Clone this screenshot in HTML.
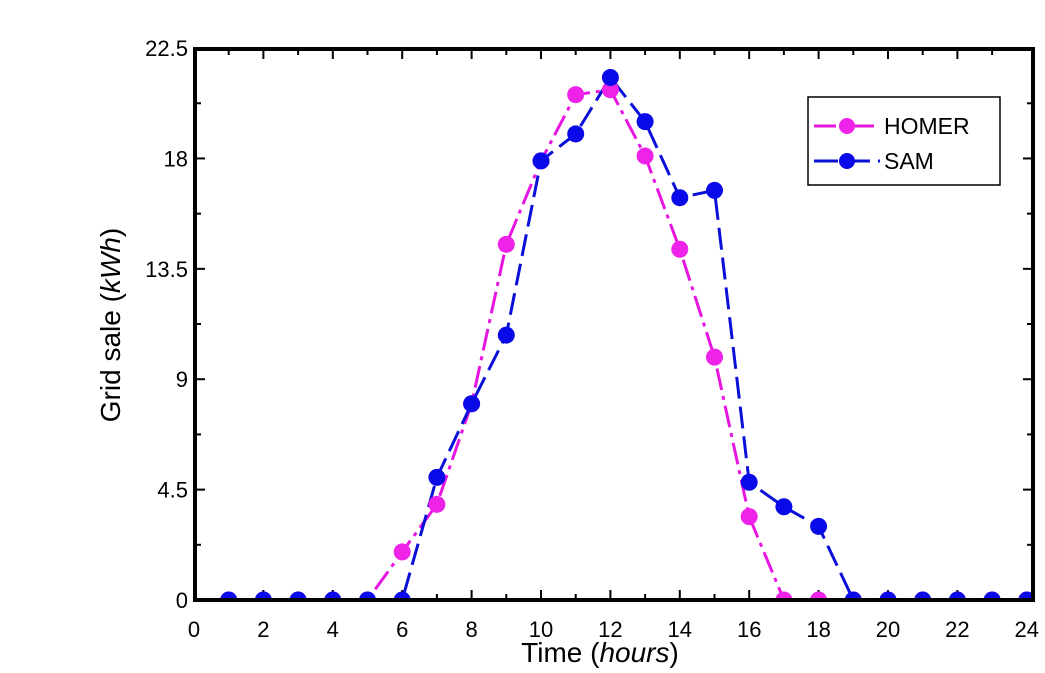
<!DOCTYPE html>
<html><head><style>body{margin:0;background:#fff}svg{display:block}</style></head><body>
<svg width="1045" height="673" xmlns="http://www.w3.org/2000/svg" font-family="Liberation Sans, sans-serif">
<defs><clipPath id="c"><rect x="195" y="49" width="838" height="551"/></clipPath></defs>
<g id="ticks" stroke="#000" stroke-width="2"></g>
<g clip-path="url(#c)">
<polyline id="hl" fill="none" stroke="#e815e0" stroke-width="3" stroke-dasharray="22,6,4,6"/>
<polyline id="sl" fill="none" stroke="#0a10d8" stroke-width="3" stroke-dasharray="22,8"/>
<g id="hm" fill="#ee22e8"></g>
<g id="sm" fill="#0a0ae8"></g>
</g>
<rect x="195" y="49" width="838" height="551" fill="none" stroke="#000" stroke-width="4"/>
<g id="xl" font-size="22" text-anchor="middle"></g>
<g id="yl" font-size="22" text-anchor="end"></g>
<text x="600" y="662" font-size="28" text-anchor="middle">Time (<tspan font-style="italic">hours</tspan>)</text>
<text transform="translate(120,325) rotate(-90)" font-size="28" text-anchor="middle">Grid sale (<tspan font-style="italic">kWh</tspan>)</text>
<rect x="808" y="97" width="192" height="88" fill="#fff" stroke="#000" stroke-width="1.5"/>
<line x1="814" y1="126" x2="880" y2="126" stroke="#e815e0" stroke-width="3" stroke-dasharray="22,6,4,6"/>
<circle cx="847" cy="126" r="8" fill="#ee22e8"/>
<text x="884" y="134" font-size="23">HOMER</text>
<line x1="814" y1="161" x2="880" y2="161" stroke="#0a10d8" stroke-width="3" stroke-dasharray="24,8"/>
<circle cx="847" cy="161" r="8" fill="#0a0ae8"/>
<text x="884" y="169" font-size="23">SAM</text>
</svg>
<script>
const X=h=>194+h*34.7, Y=v=>600-v*24.53, ns="http://www.w3.org/2000/svg";
const H=[0,0,0,0,0,1.96,3.9,8.0,14.5,17.9,20.6,20.8,18.1,14.3,9.9,3.4,0,0,0,0,0,0,0,0];
const S=[0,0,0,0,0,0,5.0,8.0,10.8,17.9,19.0,21.3,19.5,16.4,16.7,4.8,3.8,3.0,0,0,0,0,0,0];
function draw(d,l,m){let p=[];d.forEach((v,i)=>{let x=X(i+1),y=Y(v);p.push(x+","+y);let c=document.createElementNS(ns,"circle");c.setAttribute("cx",x);c.setAttribute("cy",y);c.setAttribute("r",8.5);document.getElementById(m).appendChild(c);});document.getElementById(l).setAttribute("points",p.join(" "));}
draw(H,"hl","hm");draw(S,"sl","sm");
const t=document.getElementById("ticks");
function ln(a,b,c,d){let e=document.createElementNS(ns,"line");e.setAttribute("x1",a);e.setAttribute("y1",b);e.setAttribute("x2",c);e.setAttribute("y2",d);t.appendChild(e);}
for(let h=1;h<24;h++){let x=X(h),L=h%2?6:10;ln(x,600,x,600-L);ln(x,49,x,49+L);}
for(let k=1;k<10;k++){let y=Y(k*2.25),L=k%2?6:10;ln(195,y,195+L,y);ln(1033,y,1033-L,y);}
const xl=document.getElementById("xl");
for(let h=0;h<=24;h+=2){let e=document.createElementNS(ns,"text");e.setAttribute("x",X(h));e.setAttribute("y",637);e.textContent=h;xl.appendChild(e);}
const yl=document.getElementById("yl");
["0","4.5","9","13.5","18","22.5"].forEach((s,i)=>{let e=document.createElementNS(ns,"text");e.setAttribute("x",188);e.setAttribute("y",Y(i*4.5)+8);e.textContent=s;yl.appendChild(e);});
</script>
</body></html>
